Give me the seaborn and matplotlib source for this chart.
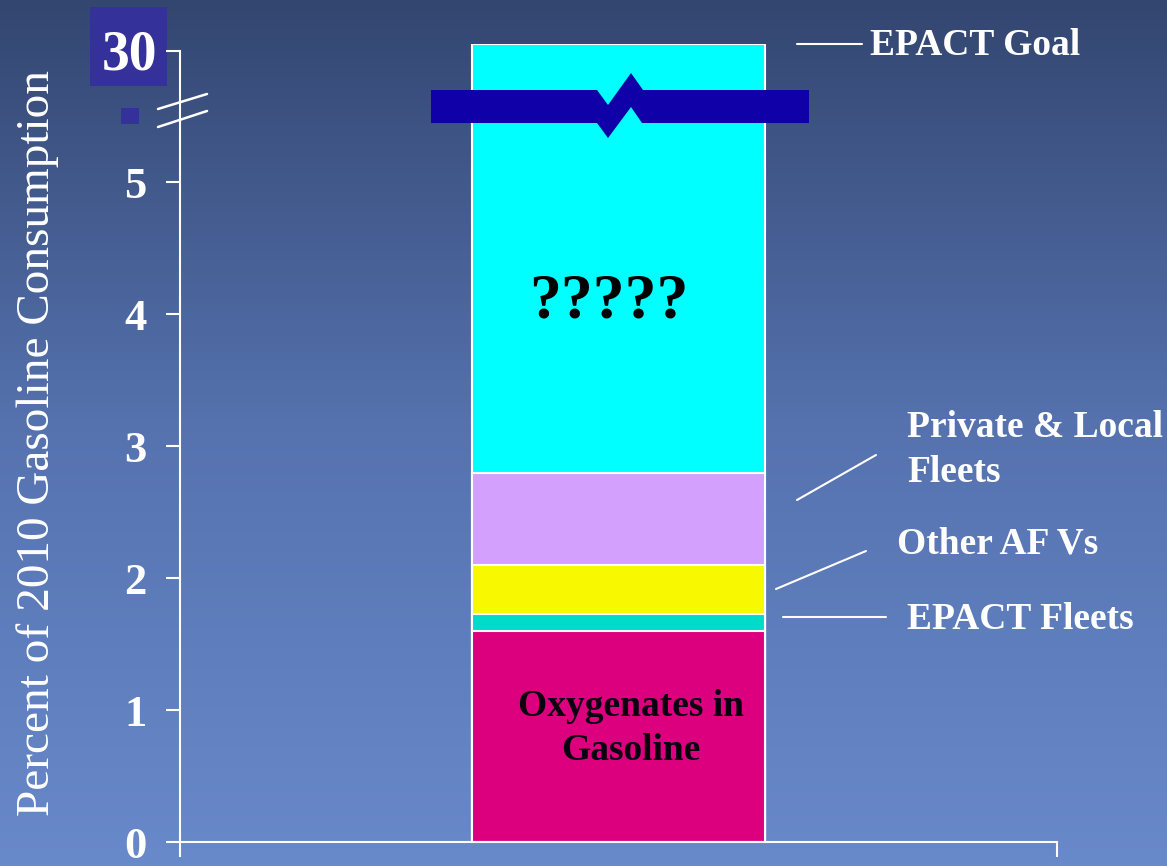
import numpy as np
import pandas as pd
import matplotlib
matplotlib.use("Agg")
import matplotlib.pyplot as plt
import seaborn as sns
from matplotlib.colors import LinearSegmentedColormap
from matplotlib.patches import Rectangle, Polygon
from matplotlib.lines import Line2D

# 数据（纵轴上 5 以上是断轴，6 的位置代表 30%）
segments = ["Oxygenates in Gasoline", "EPACT Fleets", "Other AF Vs",
            "Private & Local Fleets", "?????"]
segment_values = [1.6, 0.13, 0.37, 0.7, 3.25]
segment_colors = ["#dc007f", "#00dcca", "#f8f800", "#d4a0fe", "#00ffff"]
category = ["2010"]
ytick_values = [0, 1, 2, 3, 4, 5, 6]
ytick_labels = ["0", "1", "2", "3", "4", "5", ""]
goal_label = "30"

W, H = 1167, 866


def px(x, y):
    """像素坐标 -> figure 坐标"""
    return x / W, 1 - y / H


sns.set_style("ticks")
plt.rcParams["font.family"] = ["Liberation Serif", "DejaVu Serif"]

fig = plt.figure(figsize=(W / 100, H / 100), dpi=100)

# 渐变背景
bg = fig.add_axes([0, 0, 1, 1], zorder=-2)
cmap = LinearSegmentedColormap.from_list(
    "bg", [(0, "#334670"), (0.5, "#5673b0"), (1, "#6889ca")])
grad = np.linspace(0, 1, 256).reshape(-1, 1)
bg.imshow(grad, aspect="auto", cmap=cmap, extent=[0, 1, 0, 1])
bg.axis("off")

# 主图
x0, y0 = px(180, 842)
x1, y1 = px(1057, 44)
ax = fig.add_axes([x0, y0, x1 - x0, y1 - y0])
ax.set_facecolor("none")

tops = np.cumsum(segment_values)
df = pd.DataFrame({"year": category * len(segments), "top": tops,
                   "segment": segments})
for i in range(len(segments) - 1, -1, -1):
    sns.barplot(data=df.iloc[[i]], x="year", y="top", color=segment_colors[i],
                saturation=1, width=1, edgecolor="white", linewidth=1.5,
                errorbar=None, ax=ax)

ax.set_xlim(-1.5, 1.5)
ax.set_ylim(0, tops[-1])
ax.set_xticks([-1.5, 1.5])
ax.set_xticklabels(["", ""])
ax.set_xlabel("")
ax.set_yticks(ytick_values)
ax.set_yticklabels(ytick_labels)
for lbl in ax.get_yticklabels():
    lbl.set_fontweight("bold")

for s in ["top", "right"]:
    ax.spines[s].set_visible(False)
for s in ["left", "bottom"]:
    ax.spines[s].set_color("white")
    ax.spines[s].set_linewidth(1.5)
ax.spines["left"].set_bounds(0, 6)
ax.tick_params(axis="y", direction="out", length=10, width=1.5, color="white",
               labelcolor="white", labelsize=32, pad=14)
ax.tick_params(axis="x", direction="out", length=11, width=1.5, color="white")
ax.set_ylabel("Percent of 2010 Gasoline Consumption", fontsize=34,
              color="white", labelpad=47)

# "30" 方框与小方块
bx, by = px(90, 86)
fig.patches.append(Rectangle((bx, by), 77 / W, 79 / H, transform=fig.transFigure,
                             facecolor="#35319a", edgecolor="none", zorder=-1))
sx, sy = px(121, 124)
fig.patches.append(Rectangle((sx, sy), 18 / W, 16 / H, transform=fig.transFigure,
                             facecolor="#35319a", edgecolor="none", zorder=-1))
fig.text(*px(129, 69), goal_label, fontsize=40, fontweight="bold", color="white",
         ha="center", va="baseline")

# 断轴标记
for ya, yb in [(109, 94), (127, 111)]:
    fig.lines.append(Line2D([158 / W, 207 / W], [1 - ya / H, 1 - yb / H],
                            transform=fig.transFigure, color="white", lw=1.8,
                            zorder=3))

# 柱上的断裂带
brk = [(431, 90), (597, 90), (608, 105), (631, 73), (643, 90), (809, 90),
       (809, 123), (642, 123), (631, 107), (608, 138), (597, 123), (431, 123)]
fig.patches.append(Polygon([px(x, y) for x, y in brk], closed=True,
                           transform=fig.transFigure, facecolor="#1000a8",
                           edgecolor="none", zorder=3))

# 柱内文字
fig.text(*px(609, 317), segments[4], fontsize=46, fontweight="bold",
         color="black", ha="center", va="baseline")
fig.text(*px(631, 716), "Oxygenates in", fontsize=27, fontweight="bold",
         color="#0a0010", ha="center", va="baseline")
fig.text(*px(631, 760), "Gasoline", fontsize=27, fontweight="bold",
         color="#0a0010", ha="center", va="baseline")

# 右侧标注和引线
labels = [("EPACT Goal", 870, 55), ("Private & Local", 907, 437),
          ("Fleets", 907, 482), ("Other AF Vs", 897, 554),
          ("EPACT Fleets", 907, 629)]
for txt, tx, ty in labels:
    fig.text(*px(tx, ty), txt, fontsize=27, fontweight="bold", color="white",
             ha="left", va="baseline")

leaders = [((797, 44), (862, 44)), ((797, 500), (876, 455)),
           ((776, 589), (866, 551)), ((783, 617), (886, 617))]
for (xa, ya), (xb, yb) in leaders:
    fig.lines.append(Line2D([xa / W, xb / W], [1 - ya / H, 1 - yb / H],
                            transform=fig.transFigure, color="white", lw=1.5,
                            zorder=3))

fig.savefig("out.png", dpi=100)
